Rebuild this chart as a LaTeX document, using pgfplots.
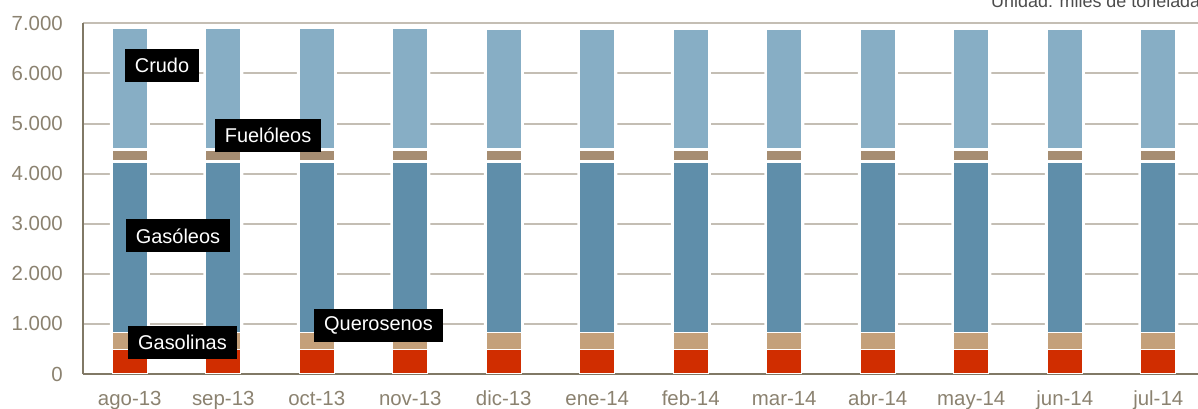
\documentclass[border=0pt]{standalone}
\usepackage{fontspec}
\setmainfont{Liberation Sans}
\usepackage{pgfplots}
\usepackage{pgfplotstable}
\pgfplotsset{compat=1.18}
\definecolor{crudo}{HTML}{87AEC5}
\definecolor{gasoleo}{HTML}{5F8EAA}
\definecolor{fuel}{HTML}{A68D72}
\definecolor{quero}{HTML}{C4A07A}
\definecolor{gasolina}{HTML}{D02D00}
\definecolor{axisc}{HTML}{817966}
\definecolor{gridc}{HTML}{C4BEB4}
\definecolor{tickc}{HTML}{8B8270}
\pgfplotstableread{
x gasolinas querosenos gasoleos gapa fuel gapb crudo total
0  492 344 3384 45 190 40 2400 6895
1  492 344 3384 45 190 40 2400 6895
2  492 344 3384 45 190 40 2400 6895
3  492 344 3384 45 190 40 2400 6895
4  492 344 3384 45 190 40 2387 6882
5  492 344 3384 45 190 40 2387 6882
6  492 344 3384 45 190 40 2387 6882
7  492 344 3384 45 190 40 2375 6870
8  492 344 3384 45 190 40 2375 6870
9  492 344 3384 45 190 40 2375 6870
10 492 344 3384 45 190 40 2375 6870
11 492 344 3384 45 190 40 2375 6870
}\datatable
\pgfplotsset{base/.style={
  at={(83bp,35bp)}, anchor=south west,
  scale only axis, width=1115bp, height=350.7bp,
  xmin=-0.5, xmax=11.425, ymin=0, ymax=7000,
  ytick={0,1000,...,7000}, xtick={0,...,11},
  major tick length=0pt,
}}
\begin{document}
\begin{tikzpicture}
% background: grid and white halo behind each bar
\begin{axis}[base, ybar, bar width=40bp,
  axis line style={draw=none}, ymajorgrids, grid style={color=gridc, line width=2bp},
  yticklabels={}, xticklabels={}]
\addplot[fill=white, draw=none, bar shift=0pt] table[x=x, y=total] {\datatable};
\end{axis}
\begin{axis}[base,
  ybar stacked, bar width=35bp,
  axis x line*=bottom, axis y line*=left,
  axis line style={color=axisc, line width=2bp, -},
  xticklabels={ago-13,sep-13,oct-13,nov-13,dic-13,ene-14,feb-14,mar-14,abr-14,may-14,jun-14,jul-14},
  tick label style={font=\fontsize{20.5}{23}\selectfont, color=tickc},
  yticklabel style={anchor=east, inner sep=0pt, xshift=-20bp},
  xticklabel style={anchor=base, inner sep=0pt, yshift=-31bp},
  /pgf/number format/.cd, 1000 sep={.}, assume math mode=true,
]
\addplot[fill=gasolina, draw=white, line width=1.2bp] table[x=x, y=gasolinas] {\datatable};
\addplot[fill=quero, draw=white, line width=1.2bp] table[x=x, y=querosenos] {\datatable};
\addplot[fill=gasoleo, draw=white, line width=1.2bp] table[x=x, y=gasoleos] {\datatable};
\addplot[fill=white, draw=white, line width=1.2bp] table[x=x, y=gapa] {\datatable};
\addplot[fill=fuel, draw=white, line width=1.2bp] table[x=x, y=fuel] {\datatable};
\addplot[fill=white, draw=white, line width=1.2bp] table[x=x, y=gapb] {\datatable};
\addplot[fill=crudo, draw=white, line width=1.2bp] table[x=x, y=crudo] {\datatable};
\coordinate (lcrudo) at (axis cs:0.345,6156);
\coordinate (lfuel) at (axis cs:1.479,4766);
\coordinate (lgasoleo) at (axis cs:0.516,2756);
\coordinate (lgasolina) at (axis cs:0.564,626);
\coordinate (lquero) at (axis cs:2.66,976);
\end{axis}
\tikzset{lab/.style={fill=black, text=white, inner xsep=10bp, inner ysep=0pt, minimum height=33bp, font=\fontsize{20}{23}\selectfont}}
\node[lab] at (lcrudo) {Crudo};
\node[lab] at (lfuel) {Fuelóleos};
\node[lab] at (lgasoleo) {Gasóleos};
\node[lab] at (lgasolina) {Gasolinas};
\node[lab] at (lquero) {Querosenos};
\node[anchor=base west, font=\fontsize{18}{20}\selectfont, text=black!70, inner sep=0pt] at (991bp,401bp) {Unidad: miles de toneladas};
\pgfresetboundingbox
\path[use as bounding box] (0,0) rectangle (1198bp,409bp);
\end{tikzpicture}
\end{document}
